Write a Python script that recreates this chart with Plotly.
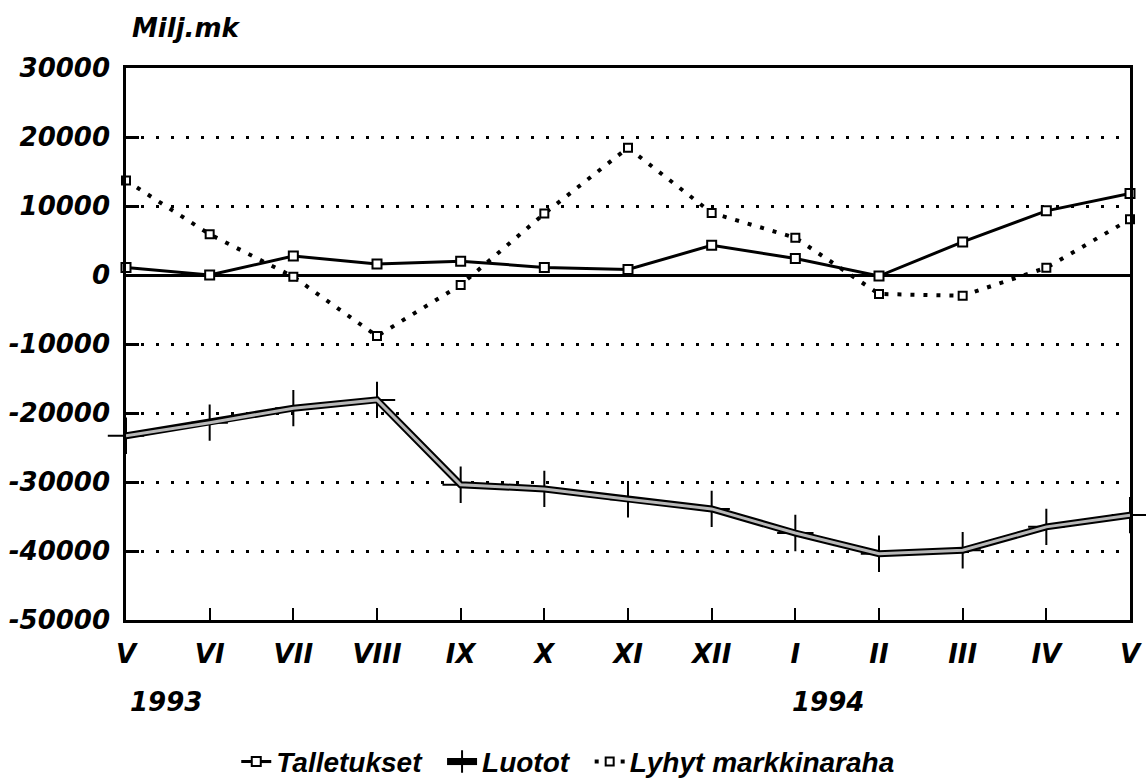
import plotly.graph_objects as go

months = ["V", "VI", "VII", "VIII", "IX", "X", "XI", "XII", "I", "II", "III", "IV", "V"]
x_idx = list(range(len(months)))

talletukset = [1100, 0, 2750, 1600, 2000, 1100, 800, 4300, 2400, -150, 4800, 9300, 11800]
luotot = [-23300, -21400, -19300, -18100, -30400, -31000, -32500, -33900, -37400, -40400, -39900, -36500, -34800]
lyhyt = [13700, 5900, -250, -8850, -1450, 8900, 18450, 9000, 5400, -2750, -3000, 1060, 8070]

y_ticks = [30000, 20000, 10000, 0, -10000, -20000, -30000, -40000, -50000]

tick_font = dict(family="DejaVu Sans", size=26, color="black", weight="bold", style="italic")
leg_font = dict(family="Liberation Sans, Arial", size=28, color="black", weight="bold", style="italic")

NB = "\u00a0"

fig = go.Figure()

# Lyhyt markkinaraha (dotted)
fig.add_trace(go.Scatter(
    x=x_idx, y=lyhyt, mode="lines+markers", name="Lyhyt markkinaraha",
    line=dict(color="black", width=4, dash="4px,9px"),
    marker=dict(symbol="square", size=8, color="white", line=dict(color="black", width=2)),
    cliponaxis=False,
))

# Luotot (double line: black outline + grey core)
fig.add_trace(go.Scatter(
    x=x_idx, y=luotot, mode="lines+markers", name="Luotot" + NB * 2,
    line=dict(color="black", width=7),
    marker=dict(symbol="cross-thin", size=26, color="black", line=dict(color="black", width=2)),
    cliponaxis=False,
))
fig.add_trace(go.Scatter(
    x=x_idx, y=luotot, mode="lines", name="Luotot", showlegend=False,
    line=dict(color="#b8b8b8", width=3),
    cliponaxis=False, hoverinfo="skip",
))

# Talletukset (solid with open squares)
fig.add_trace(go.Scatter(
    x=x_idx, y=talletukset, mode="lines+markers", name="Talletukset" + NB * 2,
    line=dict(color="black", width=3),
    marker=dict(symbol="square", size=9, color="white", line=dict(color="black", width=2)),
    cliponaxis=False,
))

fig.update_layout(
    width=1146, height=783,
    margin=dict(l=126, r=16, t=68, b=163, autoexpand=False),
    paper_bgcolor="white", plot_bgcolor="white",
    showlegend=True,
    legend=dict(orientation="h", x=0.44, xanchor="center", y=-0.257, yanchor="middle",
                font=leg_font, traceorder="reversed", itemwidth=30, bgcolor="rgba(0,0,0,0)"),
    xaxis=dict(
        range=[0, 12], tickvals=x_idx, ticktext=months, automargin=False,
        showline=True, linecolor="black", linewidth=2.5, mirror=True,
        ticks="inside", ticklen=12, tickwidth=2, tickcolor="black",
        showgrid=False, zeroline=False, tickfont=tick_font,
        ticklabelstandoff=9,
    ),
    yaxis=dict(
        range=[-50000, 30000], tickvals=y_ticks, ticktext=[str(v) for v in y_ticks], automargin=False,
        showline=True, linecolor="black", linewidth=2.5, mirror=True,
        ticks="inside", ticklen=13, tickwidth=2.5, tickcolor="black",
        showgrid=True, gridcolor="black", gridwidth=2.5, griddash="3px,12px",
        zeroline=True, zerolinecolor="black", zerolinewidth=2.5,
        tickfont=tick_font, ticklabelstandoff=8,
    ),
    annotations=[
        dict(text="Milj.mk", xref="paper", yref="paper", x=0, y=1.0725, xanchor="left", yanchor="middle",
             xshift=4, showarrow=False, font=tick_font),
        dict(text="1993", xref="x", yref="paper", x=0, y=-0.148, xanchor="left", yanchor="middle",
             xshift=2, showarrow=False, font=tick_font),
        dict(text="1994", xref="x", yref="paper", x=8, y=-0.148, xanchor="left", yanchor="middle",
             xshift=-5, showarrow=False, font=tick_font),
    ],
)

fig.write_html("out.html", config={"displayModeBar": False})

# remove default page margins so the 1146x783 figure fits the window exactly
with open("out.html", "r", encoding="utf-8") as f:
    html = f.read()
html = html.replace("<head>", "<head><style>html,body{margin:0;padding:0;overflow:hidden;}</style>", 1)
with open("out.html", "w", encoding="utf-8") as f:
    f.write(html)
